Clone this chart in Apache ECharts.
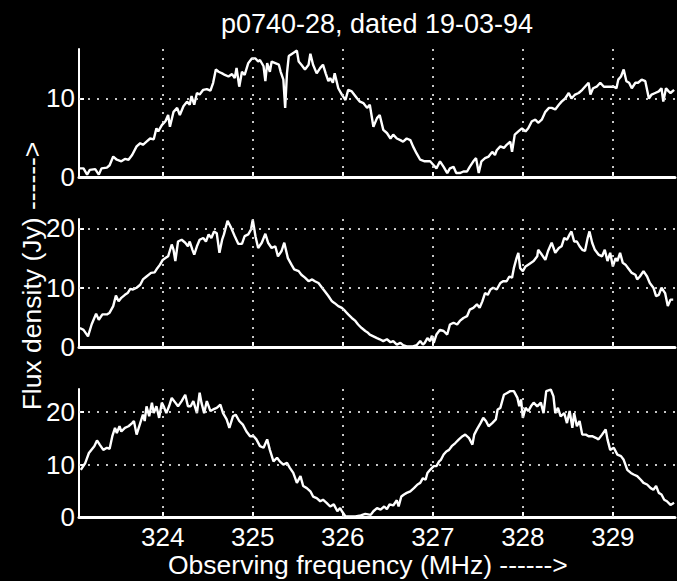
<!DOCTYPE html>
<html><head><meta charset="utf-8">
<script src="https://cdn.jsdelivr.net/npm/echarts@6/dist/echarts.min.js"></script>
<style>html,body{margin:0;padding:0;background:#000;}#chart{width:677px;height:581px;}</style>
</head><body><div id="chart"></div>
<script>
const titleText = 'p0740-28, dated 19-03-94';
const xAxisTitle = 'Observing frequency (MHz) ------>';
const yAxisTitle = 'Flux density (Jy) ------>';
const xTicks = [324, 325, 326, 327, 328, 329];
const xMin = 323.07, xMax = 329.69;
const yTicks1 = [0, 10];
const yTicks2 = [0, 10, 20];
const yTicks3 = [0, 10, 20];
const yMax1 = 16.3, yMax2 = 21.6, yMax3 = 24.4;

// [frequency MHz, flux density Jy]
const panel1 = [[323.08,1.1],[323.10,1.1],[323.12,1.1],[323.16,0.3],[323.19,0.9],[323.25,1.0],[323.29,0.3],[323.32,1.1],[323.38,1.2],[323.41,1.5],[323.45,2.6],[323.49,2.2],[323.54,2.0],[323.58,2.3],[323.62,2.2],[323.66,2.8],[323.71,3.9],[323.75,4.3],[323.78,4.1],[323.82,4.5],[323.86,4.9],[323.90,4.8],[323.93,6.2],[323.95,5.8],[323.99,6.6],[324.03,7.1],[324.06,7.9],[324.08,6.4],[324.12,8.3],[324.16,8.8],[324.19,7.9],[324.23,9.0],[324.27,9.6],[324.30,9.2],[324.32,10.3],[324.35,9.2],[324.38,10.7],[324.41,10.5],[324.45,11.1],[324.49,11.2],[324.53,11.0],[324.56,12.0],[324.59,13.7],[324.62,13.4],[324.66,13.2],[324.69,13.0],[324.73,12.8],[324.77,13.1],[324.80,12.6],[324.82,13.9],[324.85,11.5],[324.88,13.4],[324.91,13.0],[324.95,14.5],[324.99,15.1],[325.03,15.1],[325.06,14.7],[325.08,14.9],[325.12,14.1],[325.14,12.2],[325.16,14.5],[325.19,13.4],[325.21,14.7],[325.25,14.5],[325.29,14.3],[325.31,13.4],[325.34,12.4],[325.36,8.8],[325.38,13.2],[325.40,15.4],[325.45,15.8],[325.49,16.1],[325.51,14.7],[325.54,14.3],[325.58,13.7],[325.62,14.3],[325.64,15.7],[325.67,14.3],[325.71,13.2],[325.75,13.9],[325.78,14.3],[325.81,13.2],[325.84,12.2],[325.86,12.6],[325.89,12.0],[325.91,13.2],[325.95,11.3],[325.99,10.5],[326.03,9.8],[326.06,11.1],[326.10,10.9],[326.16,10.0],[326.19,9.6],[326.23,9.4],[326.27,8.8],[326.30,9.2],[326.34,6.4],[326.38,7.5],[326.41,7.9],[326.45,6.0],[326.49,5.6],[326.53,4.9],[326.56,5.4],[326.60,4.9],[326.64,4.7],[326.67,4.5],[326.71,4.9],[326.75,4.7],[326.78,3.9],[326.82,3.0],[326.86,2.2],[326.91,2.0],[326.97,2.0],[327.01,1.5],[327.04,1.1],[327.08,2.0],[327.12,1.3],[327.16,0.5],[327.19,1.1],[327.23,1.3],[327.26,0.5],[327.30,0.5],[327.34,0.7],[327.38,0.7],[327.41,1.3],[327.45,2.0],[327.48,2.4],[327.51,0.5],[327.54,2.0],[327.58,2.4],[327.62,2.6],[327.66,3.2],[327.69,2.8],[327.71,3.4],[327.75,3.9],[327.79,3.7],[327.82,4.1],[327.86,4.5],[327.88,3.2],[327.91,5.4],[327.95,5.8],[327.99,6.2],[328.03,5.8],[328.06,6.2],[328.10,7.1],[328.14,7.3],[328.17,6.9],[328.21,7.3],[328.25,8.3],[328.29,8.8],[328.32,8.8],[328.36,8.6],[328.40,9.2],[328.43,9.6],[328.47,10.0],[328.51,10.7],[328.54,10.0],[328.58,10.5],[328.62,10.7],[328.66,11.1],[328.69,11.5],[328.73,12.0],[328.75,10.5],[328.78,11.3],[328.82,11.5],[328.86,12.0],[328.90,11.5],[328.93,11.5],[328.97,11.5],[329.01,11.5],[329.04,11.3],[329.06,12.4],[329.09,12.8],[329.12,13.7],[329.15,12.2],[329.18,12.0],[329.21,11.3],[329.25,12.0],[329.28,12.0],[329.32,12.4],[329.36,12.2],[329.40,10.0],[329.43,10.5],[329.47,10.7],[329.51,10.9],[329.54,11.3],[329.56,9.6],[329.59,11.3],[329.62,10.9],[329.64,10.7],[329.68,11.1]];

const panel2 = [[323.08,3.2],[323.12,2.9],[323.17,1.8],[323.21,3.8],[323.26,5.6],[323.29,4.6],[323.33,5.5],[323.38,5.5],[323.41,5.8],[323.45,6.9],[323.48,8.7],[323.51,7.7],[323.54,8.3],[323.58,8.8],[323.61,9.1],[323.64,9.8],[323.67,9.7],[323.71,10.0],[323.75,10.5],[323.78,11.4],[323.82,11.9],[323.87,12.5],[323.91,12.6],[323.94,13.3],[323.97,13.9],[324.00,14.7],[324.03,15.0],[324.06,15.3],[324.10,17.3],[324.12,16.4],[324.14,14.5],[324.17,17.8],[324.21,18.1],[324.25,17.6],[324.28,17.0],[324.30,17.8],[324.33,16.4],[324.35,15.6],[324.38,17.0],[324.41,18.1],[324.45,18.4],[324.48,17.8],[324.51,19.0],[324.54,18.4],[324.57,19.5],[324.60,19.2],[324.63,15.9],[324.66,18.1],[324.68,19.0],[324.72,21.3],[324.76,20.1],[324.80,18.7],[324.84,17.4],[324.88,17.4],[324.91,18.7],[324.95,19.0],[324.98,19.8],[325.00,21.5],[325.03,18.7],[325.06,16.7],[325.10,17.6],[325.14,19.1],[325.17,17.6],[325.21,16.7],[325.25,17.0],[325.28,15.3],[325.32,16.2],[325.35,17.6],[325.39,15.0],[325.43,13.9],[325.46,13.1],[325.51,12.8],[325.54,12.2],[325.58,11.7],[325.62,11.1],[325.66,11.4],[325.69,11.1],[325.73,10.8],[325.77,10.0],[325.80,9.4],[325.84,8.6],[325.88,7.7],[325.91,7.4],[325.95,6.9],[325.99,6.6],[326.03,6.0],[326.06,5.5],[326.10,4.9],[326.14,4.4],[326.17,3.8],[326.21,3.2],[326.25,2.7],[326.28,2.4],[326.30,2.1],[326.34,1.8],[326.38,1.5],[326.41,1.3],[326.45,1.0],[326.49,1.3],[326.53,0.8],[326.56,1.0],[326.60,0.4],[326.64,0.7],[326.67,0.3],[326.71,0.1],[326.75,0.1],[326.78,0.1],[326.82,0.3],[326.86,1.0],[326.89,0.4],[326.91,0.7],[326.94,1.5],[326.97,1.0],[326.99,1.9],[327.01,0.7],[327.04,2.1],[327.08,2.9],[327.12,2.7],[327.16,2.1],[327.19,3.8],[327.23,4.1],[327.27,3.8],[327.30,4.4],[327.34,4.9],[327.38,5.2],[327.41,6.3],[327.45,6.6],[327.49,7.2],[327.52,6.6],[327.55,7.7],[327.58,9.1],[327.61,8.8],[327.64,9.7],[327.67,10.0],[327.71,9.7],[327.75,10.8],[327.78,11.1],[327.82,11.1],[327.85,11.9],[327.88,11.7],[327.90,13.3],[327.93,15.0],[327.95,15.9],[327.97,13.3],[328.00,12.8],[328.03,13.6],[328.06,13.9],[328.12,14.5],[328.16,15.3],[328.17,16.4],[328.21,15.6],[328.25,14.7],[328.28,16.2],[328.32,17.6],[328.36,15.9],[328.40,16.7],[328.43,17.0],[328.46,18.4],[328.49,18.1],[328.52,19.0],[328.54,19.5],[328.57,17.8],[328.60,17.8],[328.63,17.0],[328.66,16.4],[328.69,16.2],[328.72,18.4],[328.74,19.5],[328.77,17.6],[328.80,16.4],[328.84,15.6],[328.88,15.3],[328.91,16.4],[328.94,14.5],[328.97,15.9],[329.00,13.6],[329.03,15.0],[329.05,14.5],[329.08,15.9],[329.11,14.2],[329.14,13.9],[329.17,13.3],[329.21,12.5],[329.25,12.2],[329.27,11.4],[329.30,11.9],[329.34,12.8],[329.38,11.9],[329.41,10.8],[329.45,10.0],[329.48,8.6],[329.51,8.8],[329.54,10.0],[329.58,9.1],[329.61,6.9],[329.64,8.0],[329.67,8.0]];

const panel3 = [[323.09,9.0],[323.14,10.3],[323.18,12.2],[323.24,13.5],[323.27,14.6],[323.30,13.8],[323.34,12.8],[323.38,13.2],[323.41,13.0],[323.44,15.4],[323.47,17.0],[323.49,16.0],[323.52,17.3],[323.54,16.3],[323.58,17.0],[323.62,17.3],[323.66,17.9],[323.68,18.3],[323.71,15.7],[323.75,17.9],[323.78,19.5],[323.80,18.3],[323.82,21.1],[323.85,19.2],[323.88,21.8],[323.90,19.8],[323.93,21.1],[323.96,18.9],[323.99,21.8],[324.01,21.1],[324.04,19.8],[324.07,21.1],[324.10,22.7],[324.14,21.8],[324.17,21.1],[324.21,22.1],[324.25,23.3],[324.28,21.1],[324.31,21.1],[324.34,22.1],[324.38,19.8],[324.41,23.7],[324.43,21.8],[324.46,19.8],[324.49,22.1],[324.53,20.2],[324.56,20.5],[324.60,20.8],[324.64,21.4],[324.67,19.8],[324.71,18.6],[324.74,17.0],[324.78,19.2],[324.81,19.5],[324.85,18.3],[324.89,17.6],[324.93,16.3],[324.97,15.4],[325.01,15.4],[325.04,14.8],[325.08,13.5],[325.12,13.2],[325.16,14.8],[325.19,12.8],[325.23,10.6],[325.27,11.3],[325.30,10.6],[325.34,10.0],[325.38,10.3],[325.41,9.4],[325.45,8.4],[325.49,6.5],[325.53,7.8],[325.56,5.9],[325.60,5.5],[325.64,4.9],[325.67,3.9],[325.71,3.6],[325.75,3.0],[325.78,3.3],[325.82,2.7],[325.86,2.0],[325.90,2.4],[325.94,1.1],[325.97,1.7],[325.99,1.1],[326.03,0.1],[326.09,0.1],[326.14,0.1],[326.20,0.3],[326.25,0.6],[326.31,0.4],[326.34,1.1],[326.38,1.7],[326.42,1.4],[326.46,2.0],[326.49,1.5],[326.52,2.4],[326.56,2.2],[326.60,3.2],[326.62,2.0],[326.65,3.9],[326.68,4.3],[326.71,4.6],[326.75,4.9],[326.79,5.5],[326.83,6.2],[326.86,6.5],[326.89,7.4],[326.92,7.1],[326.94,8.4],[326.97,9.0],[327.01,9.7],[327.04,9.7],[327.07,10.6],[327.09,10.9],[327.12,11.9],[327.15,12.5],[327.18,12.8],[327.21,13.5],[327.25,14.1],[327.29,14.8],[327.33,15.4],[327.36,15.7],[327.40,15.1],[327.44,13.8],[327.46,15.7],[327.49,16.7],[327.53,17.9],[327.56,18.9],[327.59,18.3],[327.62,17.3],[327.66,17.9],[327.70,18.6],[327.72,20.5],[327.75,20.8],[327.79,23.3],[327.83,23.7],[327.86,24.0],[327.90,24.0],[327.94,22.7],[327.96,21.1],[327.98,22.4],[328.00,18.9],[328.03,20.8],[328.06,20.2],[328.09,21.1],[328.12,21.8],[328.16,21.1],[328.20,21.8],[328.23,19.8],[328.26,24.0],[328.31,24.3],[328.34,23.0],[328.36,19.8],[328.39,20.8],[328.42,19.2],[328.46,19.8],[328.49,17.9],[328.52,20.2],[328.55,17.0],[328.57,19.8],[328.60,17.3],[328.63,18.3],[328.66,15.7],[328.70,15.7],[328.73,15.4],[328.77,15.4],[328.81,15.1],[328.84,14.8],[328.88,15.7],[328.92,16.7],[328.94,14.8],[328.97,12.8],[329.01,13.2],[329.05,11.9],[329.09,11.6],[329.12,10.9],[329.16,9.0],[329.20,8.4],[329.23,8.1],[329.27,7.8],[329.31,7.1],[329.34,6.5],[329.38,6.2],[329.42,5.5],[329.45,5.2],[329.48,5.9],[329.51,4.6],[329.54,4.3],[329.57,3.3],[329.60,3.0],[329.64,2.3],[329.68,2.7]];

const FONT = '"Liberation Sans", Arial, Helvetica, sans-serif';
const WHITE = '#ffffff';
const panels = [panel1, panel2, panel3];
const yTicksAll = [yTicks1, yTicks2, yTicks3];
const yMaxAll = [yMax1, yMax2, yMax3];
const gridTops = [49, 219, 389];

const chart = echarts.init(document.getElementById('chart'), null, {renderer: 'svg'});

const grids = gridTops.map(t => ({left: 79, top: t, width: 596, height: 128, containLabel: false}));
const xAxes = [0, 1, 2].map(i => ({
  type: 'value', gridIndex: i, min: xMin, max: xMax,
  axisLine: {show: true, onZero: false, lineStyle: {color: WHITE, width: 3}},
  axisTick: {show: true, inside: true, length: 5, customValues: xTicks, lineStyle: {color: WHITE, width: 2}},
  axisLabel: {show: i === 2, customValues: xTicks, color: WHITE, fontSize: 26, fontFamily: FONT, margin: 7},
  splitLine: {show: false}
}));
const yAxes = [0, 1, 2].map(i => ({
  type: 'value', gridIndex: i, min: 0, max: yMaxAll[i],
  axisLine: {show: true, lineStyle: {color: WHITE, width: 2}},
  axisTick: {show: true, inside: true, length: 5, customValues: yTicksAll[i], lineStyle: {color: WHITE, width: 2}},
  axisLabel: {customValues: yTicksAll[i], color: WHITE, fontSize: 26, fontFamily: FONT, margin: 4},
  splitLine: {show: false}
}));
const series = [0, 1, 2].map(i => ({
  type: 'line', xAxisIndex: i, yAxisIndex: i, data: panels[i],
  showSymbol: false, symbol: 'none', silent: true,
  lineStyle: {color: WHITE, width: 2.4},
  markLine: {
    silent: true, symbol: ['none', 'none'], label: {show: false},
    lineStyle: {color: '#dddddd', width: 2, type: [2, 7], opacity: 0.9},
    emphasis: {disabled: true},
    data: xTicks.map(v => ({xAxis: v})).concat(yTicksAll[i].filter(v => v > 0).map(v => ({yAxis: v})))
  }
}));

chart.setOption({
  backgroundColor: '#000000',
  animation: false,
  grid: grids,
  xAxis: xAxes,
  yAxis: yAxes,
  series: series,
  graphic: [
    {type: 'text', x: 377, y: 24, style: {text: titleText, fill: WHITE, fontSize: 27, fontFamily: FONT, align: 'center', verticalAlign: 'middle'}},
    {type: 'text', x: 168, y: 565, style: {text: xAxisTitle, fill: WHITE, fontSize: 26.5, fontFamily: FONT, align: 'left', verticalAlign: 'middle'}},
    {type: 'text', x: 32, y: 276, rotation: Math.PI / 2, style: {text: yAxisTitle, fill: WHITE, fontSize: 26.5, fontFamily: FONT, align: 'center', verticalAlign: 'middle'}}
  ]
});
</script></body></html>
